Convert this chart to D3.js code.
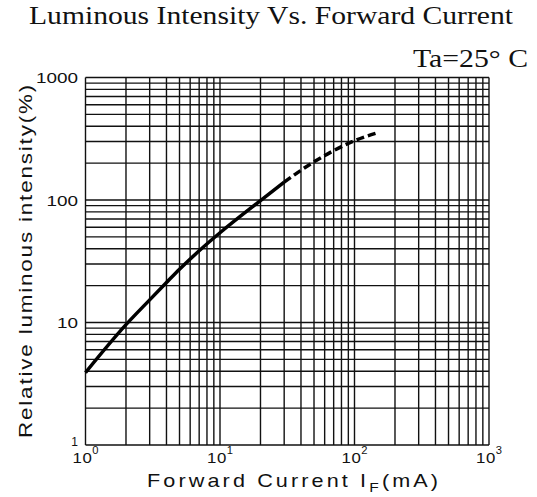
<!DOCTYPE html>
<html>
<head>
<meta charset="utf-8">
<script src="https://cdn.jsdelivr.net/npm/d3@7"></script>
<style>
  body { margin: 0; background: #fff; }
  text { fill: #111; }
</style>
</head>
<body>
<script>
// values (log-log)
var solidCurrent = [1, 2, 3, 4, 5, 7, 10, 20, 30];
var solidIntensity = [3.9, 9.6, 15.3, 21.2, 27.2, 38.5, 54, 99, 140];
var dashCurrent = [30, 50, 70, 100, 150];
var dashIntensity = [140, 205, 253, 305, 355];
var yTickLabels = ["1000", "100", "10"];
var xDecades = [1, 10, 100, 1000];
var xExponents = ["0", "1", "2", "3"];

var width = 537,
    height = 497;

var svg = d3.select("body").append("svg")
    .attr("width", width)
    .attr("height", height);

var x = d3.scaleLog().domain([1, 1000]).range([85.5, 489]);
var y = d3.scaleLog().domain([1, 1000]).range([445, 77.5]);

// grid values 1..9 per decade, plus 1000
var gridVals = [];
[1, 10, 100].forEach(function (d) {
    for (var k = 1; k <= 9; k++) gridVals.push(k * d);
});
gridVals.push(1000);

var grid = svg.append("g").attr("stroke", "#111").attr("stroke-width", 1.4);
grid.selectAll("line.v")
    .data(gridVals)
    .enter().append("line")
    .attr("class", "v")
    .attr("x1", function (d) { return x(d); })
    .attr("x2", function (d) { return x(d); })
    .attr("y1", y(1000))
    .attr("y2", y(1));
grid.selectAll("line.h")
    .data(gridVals)
    .enter().append("line")
    .attr("class", "h")
    .attr("y1", function (d) { return y(d); })
    .attr("y2", function (d) { return y(d); })
    .attr("x1", x(1))
    .attr("x2", x(1000));

// curve
var line = d3.line()
    .x(function (d) { return x(d[0]); })
    .y(function (d) { return y(d[1]); })
    .curve(d3.curveMonotoneX);

svg.append("path")
    .datum(d3.zip(solidCurrent, solidIntensity))
    .attr("d", line)
    .attr("fill", "none")
    .attr("stroke", "#000")
    .attr("stroke-width", 3.5);

svg.append("path")
    .datum(d3.zip(dashCurrent, dashIntensity))
    .attr("d", line)
    .attr("fill", "none")
    .attr("stroke", "#000")
    .attr("stroke-width", 3.5)
    .attr("stroke-dasharray", "8,4");

// y tick labels (stretched wide like the reference font)
var sans = "'Liberation Sans', Arial, sans-serif";
svg.selectAll("text.ytick")
    .data(yTickLabels)
    .enter().append("text")
    .attr("class", "ytick")
    .attr("x", function (d) { return 78 - d.length * 10.5; })
    .attr("y", function (d) { return y(+d) + 5.5; })
    .attr("textLength", function (d) { return d.length * 10.5; })
    .attr("lengthAdjust", "spacingAndGlyphs")
    .style("font-family", sans)
    .style("font-size", "15px")
    .text(function (d) { return d; });

svg.append("text")
    .attr("x", 78)
    .attr("y", y(1) + 1)
    .attr("text-anchor", "end")
    .style("font-family", sans)
    .style("font-size", "12px")
    .text("1");

// x tick labels: 10 with superscript exponent
var xl = svg.selectAll("text.xtick")
    .data(xDecades)
    .enter().append("text")
    .attr("class", "xtick")
    .attr("transform", function (d) { return "translate(" + (x(d) - 13) + ",463) scale(1.12,1)"; })
    .style("font-family", sans)
    .style("font-size", "15px")
    .style("letter-spacing", "0.5px");
xl.append("tspan").text("10");
xl.append("tspan")
    .attr("dy", -9)
    .style("font-size", "10px")
    .text(function (d, i) { return xExponents[i]; });

// axis titles
var xt = svg.append("text")
    .attr("transform", "translate(147,487) scale(1.2,1)")
    .style("font-family", sans)
    .style("font-size", "18px")
    .style("letter-spacing", "2.6px");
xt.append("tspan").text("Forward  Current  I");
xt.append("tspan").attr("dy", 5).style("font-size", "13px").text("F");
xt.append("tspan").attr("dy", -5).text("(mA)");

svg.append("text")
    .attr("transform", "translate(32,438) rotate(-90)")
    .attr("textLength", 355)
    .attr("lengthAdjust", "spacingAndGlyphs")
    .style("font-family", sans)
    .style("font-size", "18px")
    .style("letter-spacing", "1.5px")
    .text("Relative  luminous  intensity(%)");

// title and condition
var serif = "'Liberation Serif', 'Times New Roman', serif";
svg.append("text")
    .attr("x", 29)
    .attr("y", 24)
    .attr("textLength", 484)
    .attr("lengthAdjust", "spacingAndGlyphs")
    .style("font-family", serif)
    .style("font-size", "25px")
    .text("Luminous Intensity Vs. Forward Current");

svg.append("text")
    .attr("x", 413)
    .attr("y", 66.5)
    .attr("textLength", 115)
    .attr("lengthAdjust", "spacingAndGlyphs")
    .style("font-family", serif)
    .style("font-size", "25px")
    .text("Ta=25\u00b0  C");
</script>
</body>
</html>
